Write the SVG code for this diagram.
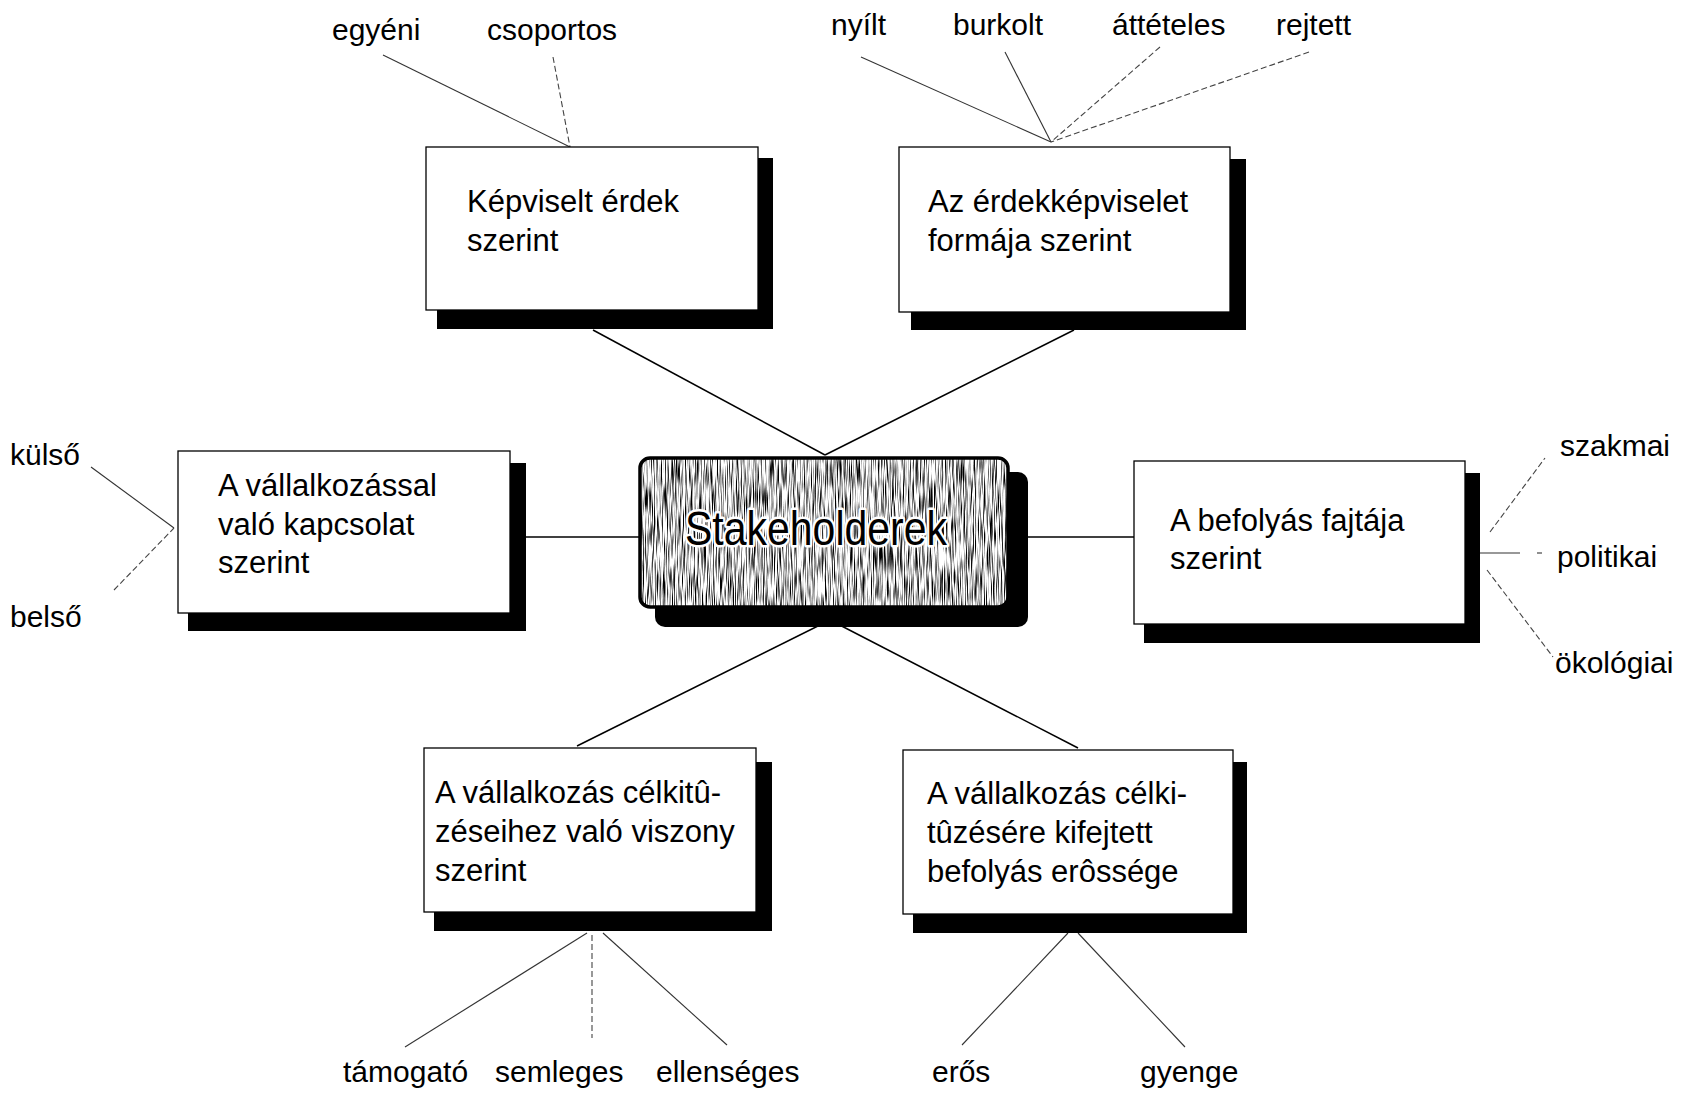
<svg xmlns="http://www.w3.org/2000/svg" width="1691" height="1095" viewBox="0 0 1691 1095">
<defs>
<style>
.box{fill:#fff;stroke:#000;stroke-width:1.3}
.shadow{fill:#000}
.t{font-family:"Liberation Sans",Arial,sans-serif;font-size:31px;fill:#000}
.lbl{font-family:"Liberation Sans",Arial,sans-serif;font-size:30px;fill:#000}
.conn{stroke:#000;stroke-width:1.5;fill:none}
.leaf{stroke:#333;stroke-width:1.1;fill:none}
.leafd{stroke:#444;stroke-width:1.1;fill:none;stroke-dasharray:6 3}
</style>
<filter id="streak" x="0" y="0" width="1" height="1">
<feTurbulence type="fractalNoise" baseFrequency="0.9 0.035" numOctaves="2" seed="7" result="n"/>
<feColorMatrix in="n" type="matrix" values="0 0 0 0 0  0 0 0 0 0  0 0 0 0 0  -3.2 0 0 0 1.85" result="a"/>
<feComposite in="a" in2="SourceGraphic" operator="in"/>
</filter>
</defs>
<rect width="1691" height="1095" fill="#fff"/>

<g id="connectors">
<line class="conn" x1="593" y1="330" x2="825" y2="455"/>
<line class="conn" x1="1074" y1="330" x2="825" y2="455"/>
<line class="conn" x1="526" y1="537" x2="640" y2="537"/>
<line class="conn" x1="1028" y1="537" x2="1134" y2="537"/>
<line class="conn" x1="577" y1="746" x2="830" y2="620"/>
<line class="conn" x1="1078" y1="748" x2="830" y2="620"/>
<line class="leaf" x1="383" y1="55" x2="570" y2="147"/>
<line class="leafd" x1="553" y1="57" x2="570" y2="147"/>
<line class="leaf" x1="861" y1="57" x2="1051" y2="142"/>
<line class="leaf" x1="1005" y1="52" x2="1051" y2="142"/>
<line class="leafd" x1="1160" y1="47" x2="1051" y2="142"/>
<line class="leafd" x1="1309" y1="52" x2="1051" y2="142"/>
<line class="leaf" x1="91" y1="467" x2="174" y2="528"/>
<line class="leafd" x1="114" y1="590" x2="174" y2="528"/>
<line class="leaf" x1="1480" y1="553" x2="1520" y2="553"/>
<line class="leaf" x1="1537" y1="553" x2="1542" y2="553"/>
<line class="leafd" x1="1490" y1="532" x2="1545" y2="458"/>
<line class="leafd" x1="1487" y1="570" x2="1553" y2="657"/>
<line class="leaf" x1="587" y1="933" x2="405" y2="1047"/>
<line class="leafd" x1="592" y1="935" x2="592" y2="1038"/>
<line class="leaf" x1="603" y1="933" x2="727" y2="1045"/>
<line class="leaf" x1="1068" y1="933" x2="962" y2="1045"/>
<line class="leaf" x1="1078" y1="933" x2="1185" y2="1047"/>
</g>

<g id="center">
<rect class="shadow" x="655" y="472" width="373" height="155" rx="10"/>
<rect x="640" y="458" width="368" height="149" rx="10" fill="#fff"/>
<rect x="640" y="458" width="368" height="149" rx="10" fill="#fff" filter="url(#streak)"/>
<rect x="640" y="458" width="368" height="149" rx="10" fill="none" stroke="#000" stroke-width="3.5"/>
<text x="685" y="545" font-family="Liberation Sans, Arial, sans-serif" font-size="48" textLength="262" lengthAdjust="spacingAndGlyphs" fill="#000" stroke="#fff" stroke-width="5" paint-order="stroke" stroke-linejoin="round">Stakeholderek</text>
</g>

<g id="node-kepviselt">
<rect class="shadow" x="437" y="158" width="336" height="171"/>
<rect class="box" x="426" y="147" width="332" height="163"/>
<text class="t" x="467" y="212">Képviselt érdek</text>
<text class="t" x="467" y="251">szerint</text>
</g>

<g id="node-forma">
<rect class="shadow" x="911" y="159" width="335" height="171"/>
<rect class="box" x="899" y="147" width="331" height="165"/>
<text class="t" x="928" y="212">Az érdekképviselet</text>
<text class="t" x="928" y="251">formája szerint</text>
</g>

<g id="node-kapcsolat">
<rect class="shadow" x="188" y="463" width="338" height="168"/>
<rect class="box" x="178" y="451" width="332" height="162"/>
<text class="t" x="218" y="496">A vállalkozással</text>
<text class="t" x="218" y="535">való kapcsolat</text>
<text class="t" x="218" y="573">szerint</text>
</g>

<g id="node-befolyas">
<rect class="shadow" x="1144" y="473" width="336" height="170"/>
<rect class="box" x="1134" y="461" width="331" height="163"/>
<text class="t" x="1170" y="531">A befolyás fajtája</text>
<text class="t" x="1170" y="569">szerint</text>
</g>

<g id="node-viszony">
<rect class="shadow" x="434" y="762" width="338" height="169"/>
<rect class="box" x="424" y="748" width="332" height="164"/>
<text class="t" x="435" y="803">A vállalkozás célkitû-</text>
<text class="t" x="435" y="842">zéseihez való viszony</text>
<text class="t" x="435" y="881">szerint</text>
</g>

<g id="node-erosseg">
<rect class="shadow" x="913" y="762" width="334" height="171"/>
<rect class="box" x="903" y="750" width="330" height="164"/>
<text class="t" x="927" y="804">A vállalkozás célki-</text>
<text class="t" x="927" y="843">tûzésére kifejtett</text>
<text class="t" x="927" y="882">befolyás erôssége</text>
</g>

<g id="label-egyeni"><text class="lbl" x="332" y="40">egyéni</text></g>
<g id="label-csoportos"><text class="lbl" x="487" y="40">csoportos</text></g>
<g id="label-nyilt"><text class="lbl" x="831" y="35">nyílt</text></g>
<g id="label-burkolt"><text class="lbl" x="953" y="35">burkolt</text></g>
<g id="label-atteteles"><text class="lbl" x="1112" y="35">áttételes</text></g>
<g id="label-rejtett"><text class="lbl" x="1276" y="35">rejtett</text></g>
<g id="label-kulso"><text class="lbl" x="10" y="465">külső</text></g>
<g id="label-belso"><text class="lbl" x="10" y="627">belső</text></g>
<g id="label-szakmai"><text class="lbl" x="1560" y="456">szakmai</text></g>
<g id="label-politikai"><text class="lbl" x="1557" y="567">politikai</text></g>
<g id="label-okologiai"><text class="lbl" x="1555" y="673">ökológiai</text></g>
<g id="label-tamogato"><text class="lbl" x="343" y="1082">támogató</text></g>
<g id="label-semleges"><text class="lbl" x="495" y="1082">semleges</text></g>
<g id="label-ellenseges"><text class="lbl" x="656" y="1082">ellenséges</text></g>
<g id="label-eros"><text class="lbl" x="932" y="1082">erős</text></g>
<g id="label-gyenge"><text class="lbl" x="1140" y="1082">gyenge</text></g>
</svg>
